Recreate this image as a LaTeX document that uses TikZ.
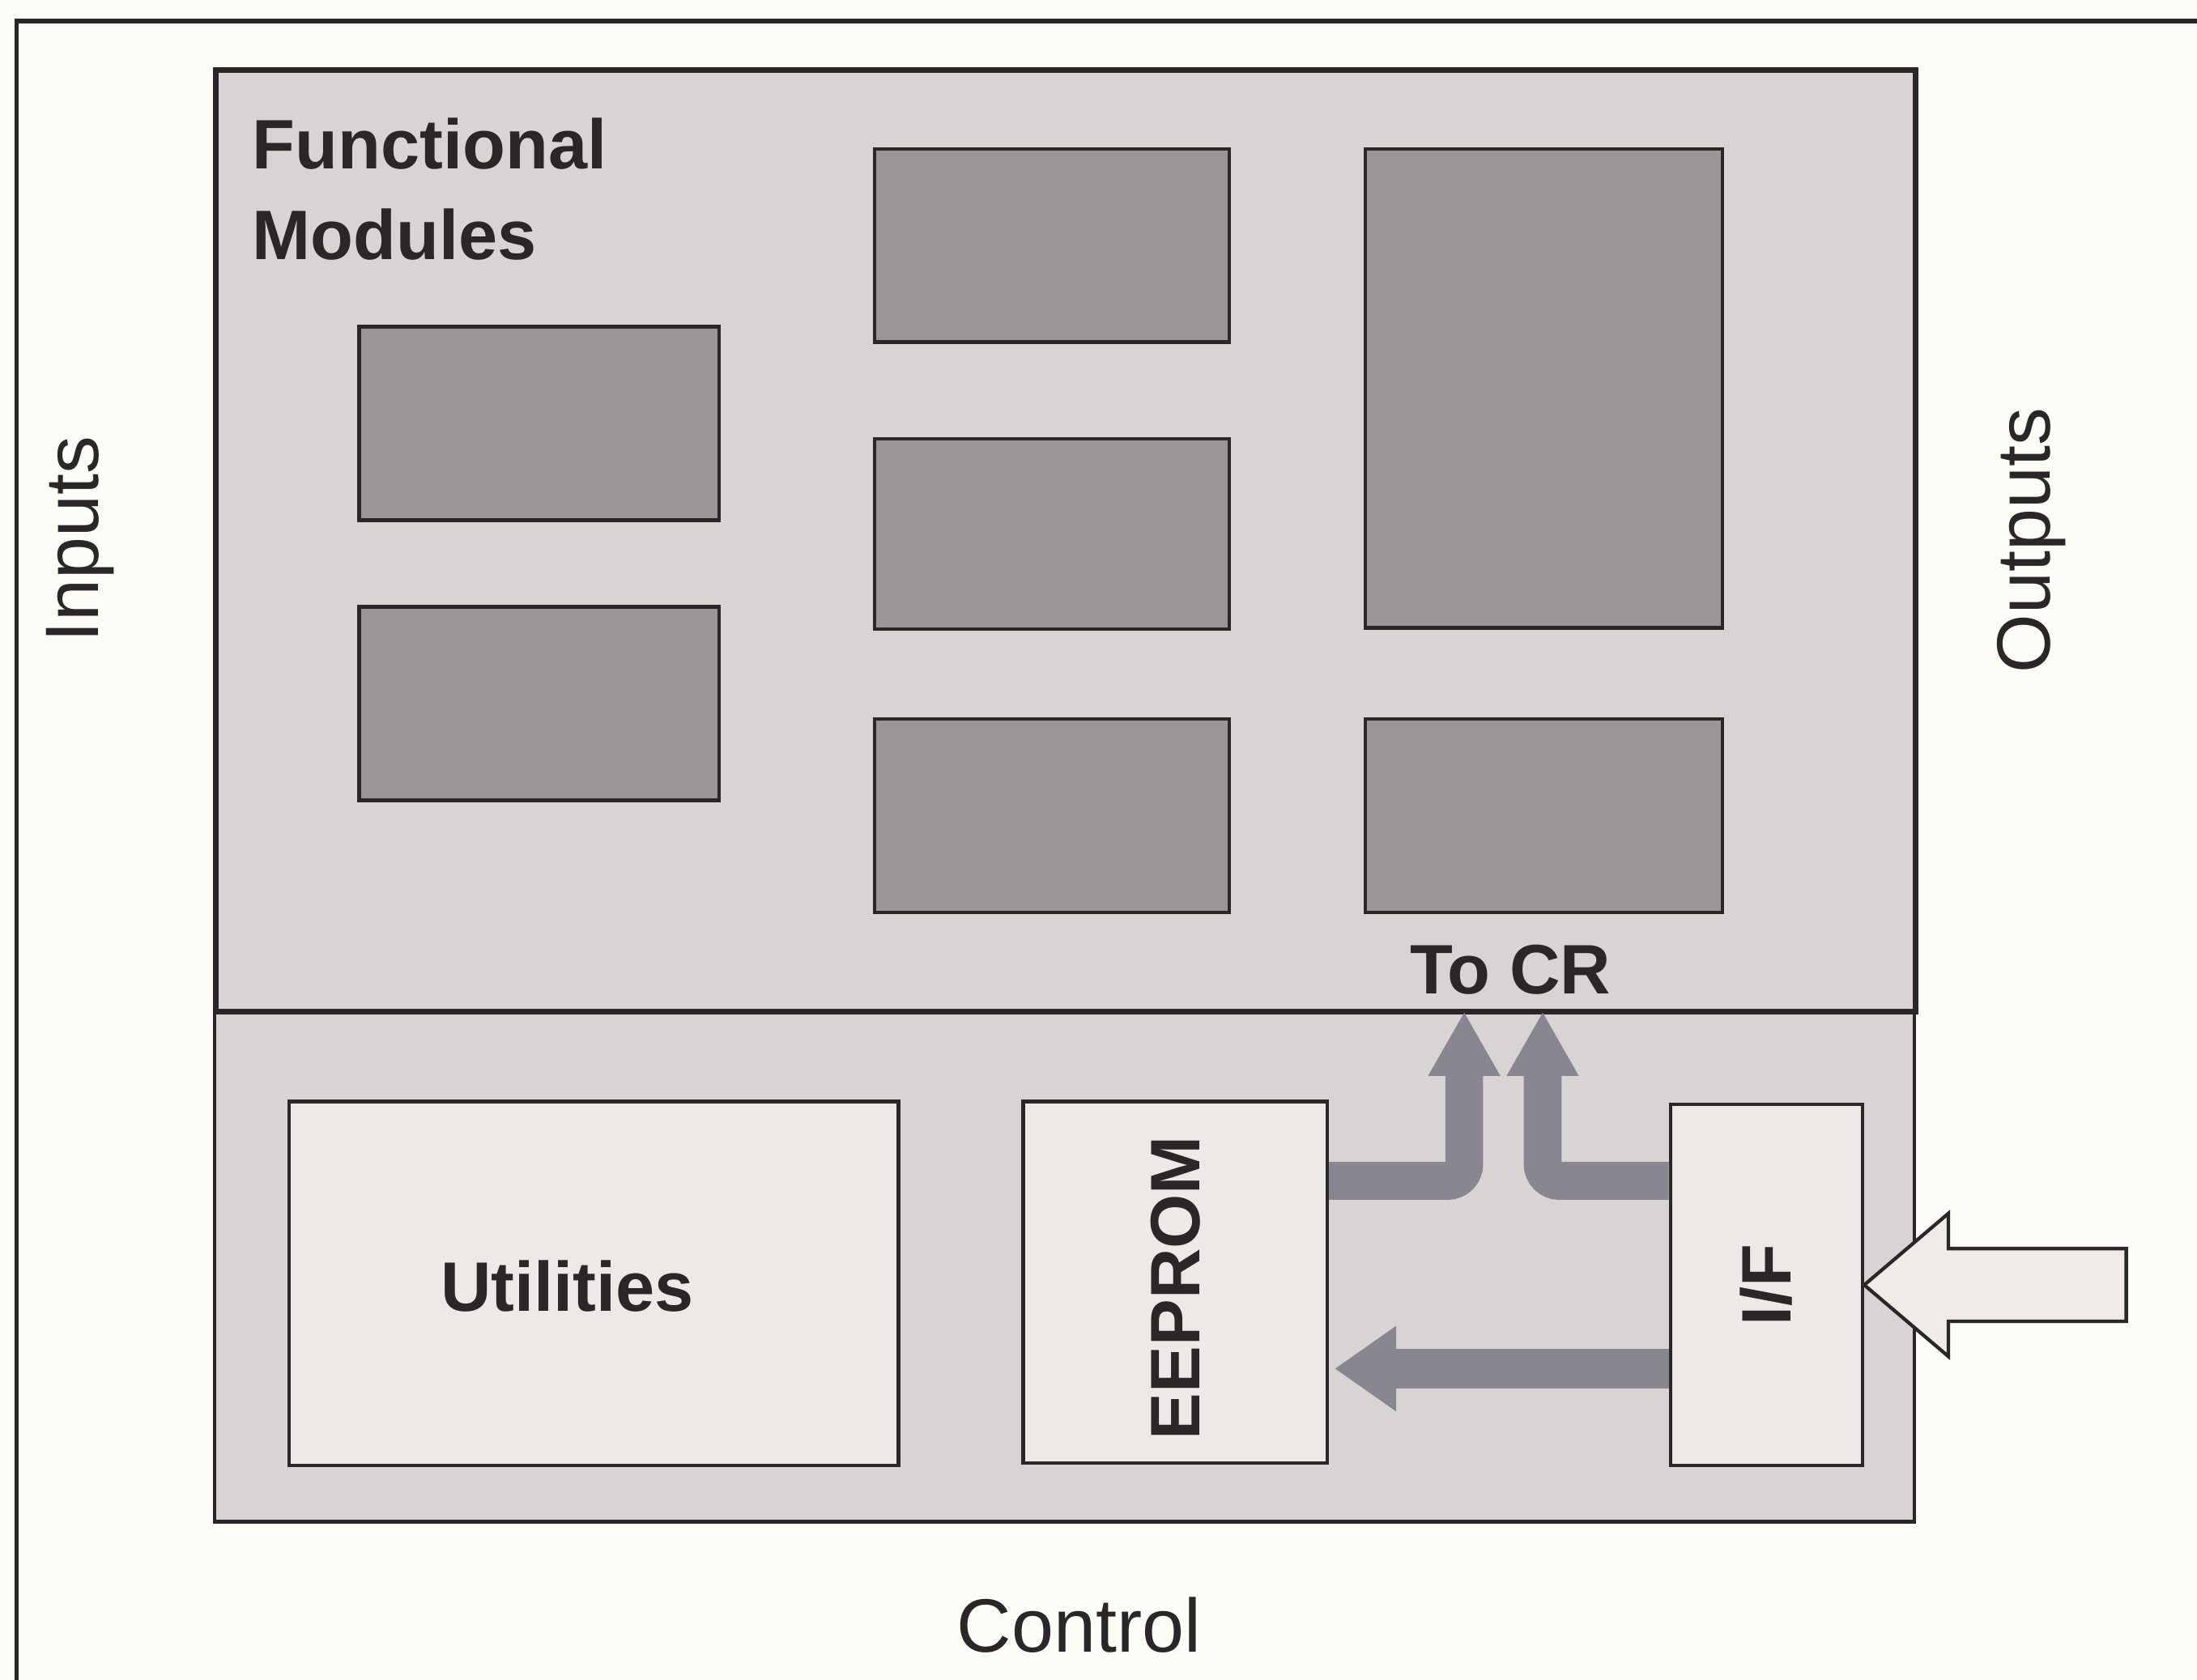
\documentclass[tikz,border=0pt]{standalone}
\usepackage{fontspec}
\setmainfont{Liberation Sans}
\usetikzlibrary{arrows.meta}
\definecolor{bg}{HTML}{FDFCF7}
\definecolor{ink}{HTML}{2B2628}
\definecolor{panel}{HTML}{D8D4D4}
\definecolor{modfill}{HTML}{9A9597}
\definecolor{ctlfill}{HTML}{ECE9E7}
\definecolor{flowgray}{HTML}{8A8690}
\definecolor{hollowfill}{HTML}{EFECE7}
\tikzset{
  boldlab/.style={font=\bfseries\fontsize{50}{60}\selectfont, text=ink, inner sep=0},
  plainlab/.style={font=\fontsize{54}{60}\selectfont, text=ink, inner sep=0},
  panelbox/.style={draw=ink, fill=panel, line width=4, anchor=north west, inner sep=0},
  modbox/.style={draw=ink, fill=modfill, line width=2.5, anchor=north west, inner sep=0},
  ctlbox/.style={draw=ink, fill=ctlfill, line width=2.5, anchor=north west, inner sep=0},
  flow/.style={draw=flowgray, line width=27, rounded corners=12, -{Triangle[width=48,length=46]}},
  flowtwo/.style={draw=flowgray, line width=28, -{Triangle[width=58,length=44]}, shorten >=4},
  hollow/.style={draw=ink, fill=hollowfill, line width=2.5, line join=miter}
}
\begin{document}
\begin{tikzpicture}[x=1pt,y=-1pt]
\useasboundingbox (0,0) rectangle (1568,1199);
\fill[bg] (0,0) rectangle (1568,1199);
\draw[ink, line width=3] (12,1199) -- (12,15) -- (1568,15);

% panels
\node[panelbox, line width=2.5, minimum width=1213, minimum height=365] (ctrl) at (152,720) {};
\node[panelbox, minimum width=1213, minimum height=672] (fm) at (152,48) {};

% functional module boxes
\node[modbox, minimum width=257, minimum height=138] (m1) at (255,232) {};
\node[modbox, minimum width=257, minimum height=138] (m2) at (255,432) {};
\node[modbox, minimum width=253, minimum height=138] (m3) at (623,105) {};
\node[modbox, minimum width=253, minimum height=136] (m4) at (623,312) {};
\node[modbox, minimum width=253, minimum height=138] (m5) at (623,512) {};
\node[modbox, minimum width=255, minimum height=342] (m6) at (973,105) {};
\node[modbox, minimum width=255, minimum height=138] (m7) at (973,512) {};

\node[boldlab, anchor=north west, align=left, font=\bfseries\fontsize{50}{65}\selectfont] (fmlab) at (180,84) {Functional\\Modules};
\node[boldlab] (tocr) at (1078,692) {To CR};

% control boxes
\node[ctlbox, minimum width=435, minimum height=260] (util) at (205,785) {};
\node[ctlbox, minimum width=217, minimum height=258] (eeprom) at (729,785) {};
\node[ctlbox, minimum width=137, minimum height=258] (iff) at (1191,787) {};
\node[boldlab] (utillab) at (405,918) {Utilities};
\node[boldlab, rotate=90] (eepromlab) at ([yshift=-4]eeprom.center) {EEPROM};
\node[boldlab, rotate=90] (ifflab) at (iff.center) {I/F};

% flows
\coordinate (upone) at (1045,722);
\coordinate (uptwo) at (1101,722);
\coordinate (hrow) at (0,843);
\coordinate (lrow) at (0,977);
\draw[flow] (eeprom.east |- hrow) -| (upone);
\draw[flow] (iff.west |- hrow) -| (uptwo);
\draw[flowtwo] (iff.west |- lrow) -- (eeprom.east |- lrow);

% hollow input arrow
\draw[hollow] (iff.east) -- ++(60,-51) -- ++(0,25) -- ++(127,0) -- ++(0,52) -- ++(-127,0) -- ++(0,25) -- cycle;

% outer labels
\node[plainlab, rotate=90] (inputs) at (57,385) {Inputs};
\node[plainlab, rotate=90] (outputs) at (1450,386) {Outputs};
\node[plainlab] (control) at (770,1160) {Control};
\end{tikzpicture}
\end{document}
